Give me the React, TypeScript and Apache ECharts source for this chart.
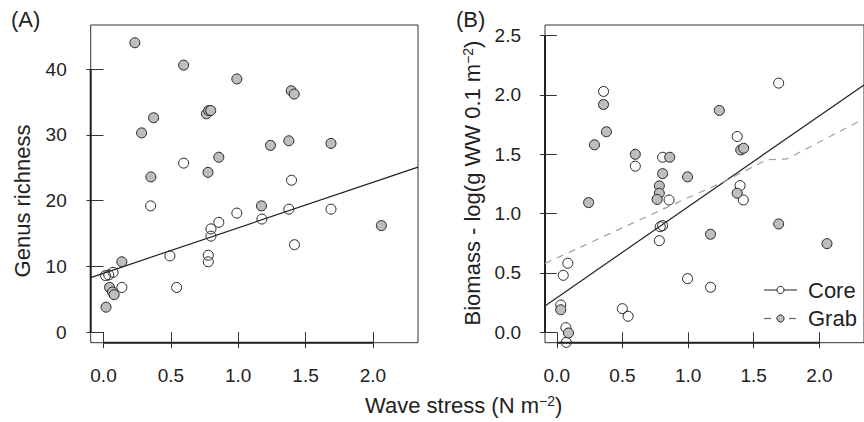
import React, { useEffect, useRef } from "react";
import * as echarts from "echarts";

// ---- data ----
const xTicks = [0, 0.5, 1.0, 1.5, 2.0];
const yTicksA = [0, 10, 20, 30, 40];
const yTicksB = [0, 0.5, 1.0, 1.5, 2.0, 2.5];

const xRangeA = [-0.095, 2.335];
const yRangeA = [-1.6, 46.7];
const xRangeB = [-0.09, 2.34];
const yRangeB = [-0.088, 2.59];

// Panel A: genus richness
const coreA = [
  [0.595, 25.7], [1.396, 23.1], [0.35, 19.2], [0.99, 18.1], [1.376, 18.7],
  [1.689, 18.7], [1.176, 17.2], [0.856, 16.7], [0.798, 15.7], [0.798, 14.6],
  [1.418, 13.3], [0.493, 11.6], [0.778, 11.7], [0.778, 10.7], [0.015, 8.6],
  [0.039, 8.7], [0.071, 9.1], [0.136, 6.8], [0.543, 6.8],
];
const grabA = [
  [0.233, 44.0], [0.595, 40.6], [0.99, 38.5], [1.394, 36.7], [1.416, 36.2],
  [0.372, 32.6], [0.764, 33.2], [0.781, 33.7], [0.796, 33.7], [0.283, 30.3],
  [1.24, 28.4], [1.376, 29.1], [1.689, 28.7], [0.856, 26.6], [0.352, 23.6],
  [0.776, 24.3], [1.173, 19.2], [2.063, 16.2], [0.136, 10.7], [0.045, 6.8],
  [0.067, 6.1], [0.079, 5.7], [0.019, 3.8],
];
const coreFitA = [[-0.095, 8.3], [2.335, 25.1]];

// Panel B: biomass
const coreB = [
  [1.69, 2.1], [0.356, 2.03], [1.374, 1.65], [0.598, 1.4], [0.806, 1.475],
  [1.396, 1.236], [0.855, 1.115], [1.421, 1.115], [0.788, 0.89], [0.806, 0.899],
  [0.781, 0.772], [0.084, 0.582], [0.049, 0.48], [0.996, 0.452], [1.171, 0.379],
  [0.03, 0.23], [0.499, 0.199], [0.543, 0.135], [0.069, 0.039], [0.072, -0.085],
];
const grabB = [
  [0.356, 1.92], [0.378, 1.69], [0.287, 1.58], [1.238, 1.87], [1.401, 1.537],
  [1.423, 1.551], [0.598, 1.5], [0.86, 1.475], [0.806, 1.337], [0.996, 1.31],
  [0.781, 1.234], [0.781, 1.172], [0.764, 1.12], [1.374, 1.172], [0.242, 1.093],
  [1.69, 0.913], [1.171, 0.826], [2.058, 0.747], [0.03, 0.19], [0.089, -0.006],
];
const coreFitB = [[-0.09, 0.222], [2.34, 2.085]];
const grabFitB = [[-0.09, 0.58], [0.96, 1.115], [1.26, 1.262], [1.6, 1.455], [1.75, 1.46], [2.34, 1.8]];

const FONT = "Liberation Sans, Arial, Helvetica, sans-serif";
const INK = "#222";
const GRAY = "#bebebe";

export default function App() {
  const ref = useRef<HTMLDivElement>(null);
  useEffect(() => {
    if (!ref.current) return;
    const chart = echarts.init(ref.current, undefined, { renderer: "svg" });

    const gridBase = {
      top: 25,
      height: 317.7,
      show: true,
      borderColor: "#333",
      borderWidth: 1,
      backgroundColor: "transparent",
      containLabel: false,
    };

    const xAxisBase = (idx: number, range: number[]) => ({
      type: "value",
      gridIndex: idx,
      min: range[0],
      max: range[1],
      splitLine: { show: false },
      axisLine: { show: false },
      axisTick: { show: true, length: 16, customValues: xTicks, lineStyle: { color: "#333", width: 1 } },
      axisLabel: {
        customValues: xTicks,
        formatter: (v: number) => v.toFixed(1),
        fontSize: 19,
        fontFamily: FONT,
        color: INK,
        margin: 23,
      },
    });
    const yAxisBase = (idx: number, range: number[], ticks: number[], digits: number) => ({
      type: "value",
      gridIndex: idx,
      min: range[0],
      max: range[1],
      splitLine: { show: false },
      axisLine: { show: false },
      axisTick: { show: true, length: 17, customValues: ticks, lineStyle: { color: "#333", width: 1 } },
      axisLabel: {
        customValues: ticks,
        formatter: (v: number) => v.toFixed(digits),
        fontSize: 19,
        fontFamily: FONT,
        color: INK,
        margin: 24,
      },
    });

    const scatter = (name: string, data: number[][], idx: number, fill: string) => ({
      name,
      type: "scatter",
      xAxisIndex: idx,
      yAxisIndex: idx,
      data,
      symbol: "circle",
      symbolSize: 10,
      clip: false,
      itemStyle: { color: fill, borderColor: INK, borderWidth: 1, opacity: 1 },
      emphasis: { disabled: true },
      z: 2,
    });
    const line = (name: string, data: number[][], idx: number, color: string, type: string, width = 1.2) => ({
      name,
      type: "line",
      xAxisIndex: idx,
      yAxisIndex: idx,
      data,
      showSymbol: false,
      symbol: "none",
      clip: false,
      silent: true,
      lineStyle: { color, width, type },
      z: 3,
    });

    const axisSegs = (idx: number, xr: number[], yr: number[], yt: number[]) => [
      line("xaxis" + idx, [[xTicks[0], yr[0]], [xTicks[xTicks.length - 1], yr[0]]], idx, "#222", "solid", 2),
      line("yaxis" + idx, [[xr[0], yt[0]], [xr[0], yt[yt.length - 1]]], idx, "#222", "solid", 2),
    ];

    const sup = { fontSize: 14, verticalAlign: "top", fontFamily: FONT, color: INK, padding: [0, 0, 8, 0] };

    chart.setOption({
      animation: false,
      textStyle: { fontFamily: FONT },
      grid: [
        { ...gridBase, left: 90.7, width: 327.3 },
        { ...gridBase, left: 545, width: 327.6 },
      ],
      xAxis: [xAxisBase(0, xRangeA), xAxisBase(1, xRangeB)],
      yAxis: [yAxisBase(0, yRangeA, yTicksA, 0), yAxisBase(1, yRangeB, yTicksB, 1)],
      series: [
        ...axisSegs(0, xRangeA, yRangeA, yTicksA),
        ...axisSegs(1, xRangeB, yRangeB, yTicksB),
        scatter("Core", coreA, 0, "transparent"),
        scatter("Grab", grabA, 0, GRAY),
        line("Core fit", coreFitA, 0, INK, "solid"),
        scatter("Core", coreB, 1, "transparent"),
        scatter("Grab", grabB, 1, GRAY),
        line("Core fit", coreFitB, 1, INK, "solid"),
        line("Grab fit", grabFitB, 1, "#a0a0a0", [7, 6] as any),
      ],
      graphic: [
        { type: "text", left: 11, top: 8, style: { text: "(A)", fontSize: 22, fontFamily: FONT, fill: INK } },
        { type: "text", left: 456, top: 8, style: { text: "(B)", fontSize: 22, fontFamily: FONT, fill: INK } },
        {
          type: "text", x: 22, y: 201, rotation: Math.PI / 2,
          style: { text: "Genus richness", fontSize: 22, fontFamily: FONT, fill: INK, align: "center", verticalAlign: "middle" },
        },
        {
          type: "text", x: 472, y: 183, rotation: Math.PI / 2,
          style: {
            text: "Biomass - log(g WW 0.1 m{sup|−2})", fontSize: 22, fontFamily: FONT, fill: INK,
            align: "center", verticalAlign: "middle", rich: { sup },
          },
        },
        {
          type: "text", x: 365, y: 405,
          style: {
            text: "Wave stress (N m{sup|−2})", fontSize: 22, fontFamily: FONT, fill: INK,
            align: "left", verticalAlign: "middle", rich: { sup },
          },
        },
        // legend
        { type: "line", shape: { x1: 764, y1: 290, x2: 797, y2: 290 }, style: { stroke: INK, lineWidth: 1.2 } },
        { type: "circle", shape: { cx: 780.5, cy: 290, r: 3.6 }, style: { fill: "#fff", stroke: INK, lineWidth: 1 } },
        { type: "text", x: 808, y: 290, style: { text: "Core", fontSize: 22, fontFamily: FONT, fill: INK, verticalAlign: "middle" } },
        { type: "line", shape: { x1: 764, y1: 318.5, x2: 771, y2: 318.5 }, style: { stroke: "#666", lineWidth: 1.2 } },
        { type: "line", shape: { x1: 789, y1: 318.5, x2: 796, y2: 318.5 }, style: { stroke: "#666", lineWidth: 1.2 } },
        { type: "circle", shape: { cx: 780.5, cy: 318.5, r: 3.6 }, style: { fill: GRAY, stroke: INK, lineWidth: 1 } },
        { type: "text", x: 808, y: 318.5, style: { text: "Grab", fontSize: 22, fontFamily: FONT, fill: INK, verticalAlign: "middle" } },
      ],
    });
    return () => chart.dispose();
  }, []);
  return <div ref={ref} style={{ position: "fixed", left: 0, top: 0, width: 864, height: 422, background: "#fff" }} />;
}
